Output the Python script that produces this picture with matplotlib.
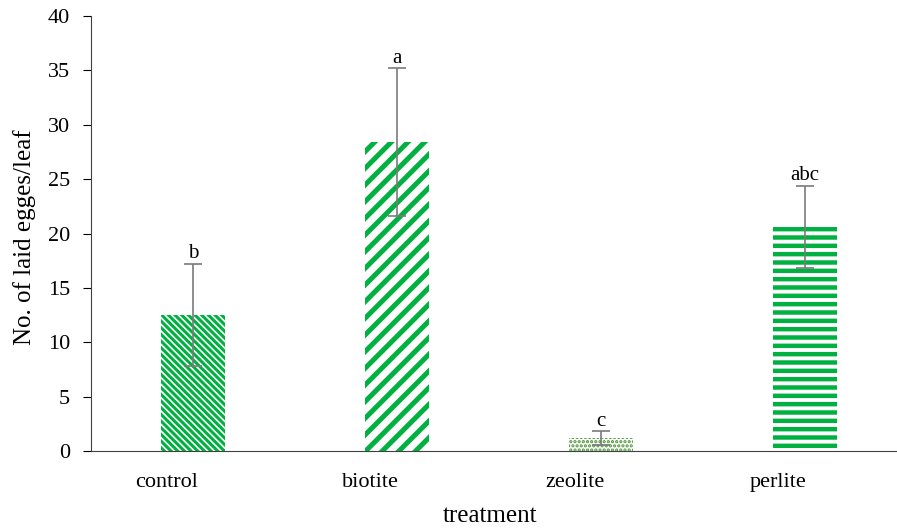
import numpy as np
import matplotlib
matplotlib.use('Agg')
import matplotlib.pyplot as plt

treatments = ['control', 'biotite', 'zeolite', 'perlite']
means = [12.5, 28.4, 1.2, 20.6]
errors = [4.7, 6.8, 0.6, 3.8]
letters = ['b', 'a', 'c', 'abc']

plt.rcParams['font.family'] = ['Liberation Serif', 'DejaVu Serif']

green = '#00b040'
hatches = ['\\\\\\\\\\', '//', '....', '--']
hatch_lw = [2.2, 3.6, 1.6, 3.2]
hatch_col = [green, green, '#4a9434', green]

fig = plt.figure(figsize=(8.97, 5.30), dpi=100)
ax = fig.add_axes([0.1015, 0.149, 0.9097, 0.8208])

x = np.arange(len(treatments))
for i in range(len(treatments)):
    plt.rcParams['hatch.linewidth'] = hatch_lw[i]
    b = ax.bar(x[i], means[i], width=0.31, color='white', edgecolor=hatch_col[i],
               hatch=hatches[i], linewidth=0, zorder=2)
    for p in b:
        if hasattr(p, 'set_hatch_linewidth'):
            p.set_hatch_linewidth(hatch_lw[i])

ax.errorbar(x, means, yerr=errors, fmt='none', ecolor='#7a7a7a', elinewidth=1.2,
            capsize=6.5, capthick=1.2, zorder=3)

# significance letters just above the error bar caps
for i in range(len(treatments)):
    ax.annotate(letters[i], (x[i], means[i] + errors[i]), xytext=(0, 4),
                textcoords='offset points', ha='center', va='baseline', fontsize=15)

ax.set_xlim(-0.5, 3.5)
ax.set_ylim(0, 40)
ax.set_yticks(np.arange(0, 41, 5))
ax.set_xticks(x - 0.13)
ax.set_xticklabels(treatments, fontsize=16)
ax.tick_params(axis='x', length=0, pad=16)
ax.tick_params(axis='y', length=6, labelsize=16, direction='out', pad=9)
ax.spines['top'].set_visible(False)
ax.spines['right'].set_visible(False)
ax.spines['left'].set_color('#404040')
ax.spines['bottom'].set_color('#404040')

fig.text(25 / 897, 1 - 237 / 530, 'No. of laid egges/leaf', rotation=90,
         ha='center', va='center', fontsize=18)
fig.text(490 / 897, 1 - 516 / 530, 'treatment', ha='center', va='center', fontsize=18)

fig.savefig('out.png', dpi=100)
